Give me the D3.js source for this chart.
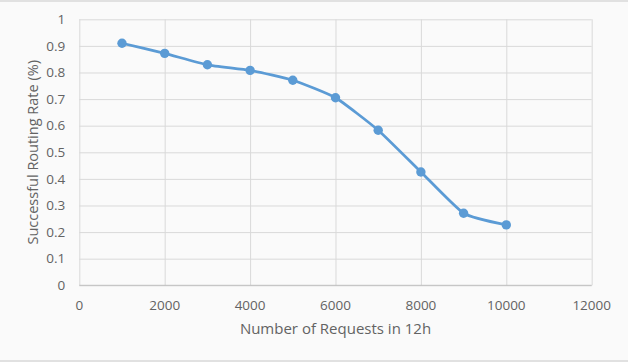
<!DOCTYPE html>
<html>
<head>
<meta charset="utf-8">
<script src="https://cdn.jsdelivr.net/npm/d3@7"></script>
<style>
  body { margin: 0; background: #fafafa; }
  text { font-family: "Open Sans", "Noto Sans", sans-serif; fill: #636363; }
</style>
</head>
<body>
<div id="chart"></div>
<script>
// Data
var requests = [1000, 2000, 3000, 4000, 5000, 6000, 7000, 8000, 9000, 10000];
var successRate = [0.910, 0.872, 0.829, 0.808, 0.771, 0.705, 0.583, 0.426, 0.271, 0.227];
var xTicks = [0, 2000, 4000, 6000, 8000, 10000, 12000];
var yTicks = [0, 0.1, 0.2, 0.3, 0.4, 0.5, 0.6, 0.7, 0.8, 0.9, 1];

var svgWidth = 628;
var svgHeight = 362;

// plot area
var margin = { top: 19.3, right: 36.3, bottom: 76.7, left: 79.3 };
var chartWidth = svgWidth - margin.left - margin.right;
var chartHeight = svgHeight - margin.top - margin.bottom;

var svg = d3.select("#chart")
  .append("svg")
  .attr("width", svgWidth)
  .attr("height", svgHeight);

svg.append("rect")
  .attr("width", svgWidth)
  .attr("height", svgHeight)
  .attr("fill", "#fafafa");

// outer frame lines top and bottom
svg.append("line")
  .attr("x1", 0).attr("x2", svgWidth)
  .attr("y1", 1).attr("y2", 1)
  .attr("stroke", "#d9d9d9").attr("stroke-width", 1.5);
svg.append("line")
  .attr("x1", 0).attr("x2", svgWidth)
  .attr("y1", 361).attr("y2", 361)
  .attr("stroke", "#d9d9d9").attr("stroke-width", 1.5);

var chartGroup = svg.append("g")
  .attr("transform", `translate(${margin.left}, ${margin.top})`);

var xScale = d3.scaleLinear().domain([0, 12000]).range([0, chartWidth]);
var yScale = d3.scaleLinear().domain([0, 1]).range([chartHeight, 0]);

// gridlines
chartGroup.append("g")
  .call(d3.axisLeft(yScale).tickValues(yTicks).tickSize(-chartWidth).tickFormat(""))
  .call(g => g.select(".domain").remove())
  .selectAll("line").attr("stroke", "#d9d9d9");

chartGroup.append("g")
  .attr("transform", `translate(0, ${chartHeight})`)
  .call(d3.axisBottom(xScale).tickValues(xTicks).tickSize(-chartHeight).tickFormat(""))
  .call(g => g.select(".domain").remove())
  .selectAll("line").attr("stroke", "#d9d9d9");

// bottom axis line slightly darker
chartGroup.append("line")
  .attr("x1", 0).attr("x2", chartWidth)
  .attr("y1", chartHeight).attr("y2", chartHeight)
  .attr("stroke", "#bfbfbf");

// tick labels
chartGroup.append("g")
  .selectAll("text")
  .data(yTicks)
  .enter()
  .append("text")
  .attr("x", -14)
  .attr("y", d => yScale(d))
  .attr("dy", "0.35em")
  .attr("text-anchor", "end")
  .attr("font-size", "13.5px")
  .text(d => d);

chartGroup.append("g")
  .selectAll("text")
  .data(xTicks)
  .enter()
  .append("text")
  .attr("x", d => xScale(d))
  .attr("y", chartHeight + 20)
  .attr("dy", "0.35em")
  .attr("text-anchor", "middle")
  .attr("font-size", "13.5px")
  .text(d => d);

// axis titles
svg.append("text")
  .attr("x", margin.left + chartWidth / 2)
  .attr("y", 329)
  .attr("dy", "0.35em")
  .attr("text-anchor", "middle")
  .attr("font-size", "15px")
  .text("Number of Requests in 12h");

svg.append("text")
  .attr("transform", `translate(33, ${margin.top + chartHeight / 2}) rotate(-90)`)
  .attr("dy", "0.35em")
  .attr("text-anchor", "middle")
  .attr("font-size", "14.5px")
  .text("Successful Routing Rate (%)");

// line + markers
var points = requests.map((r, i) => [r, successRate[i]]);

var line = d3.line()
  .x(d => xScale(d[0]))
  .y(d => yScale(d[1]))
  .curve(d3.curveCardinal.tension(0.5));

chartGroup.append("path")
  .datum(points)
  .attr("d", line)
  .attr("fill", "none")
  .attr("stroke", "#5b9bd5")
  .attr("stroke-width", 2.75);

chartGroup.selectAll("circle")
  .data(points)
  .enter()
  .append("circle")
  .attr("cx", d => xScale(d[0]))
  .attr("cy", d => yScale(d[1]))
  .attr("r", 4.7)
  .attr("fill", "#5b9bd5");
</script>
</body>
</html>
